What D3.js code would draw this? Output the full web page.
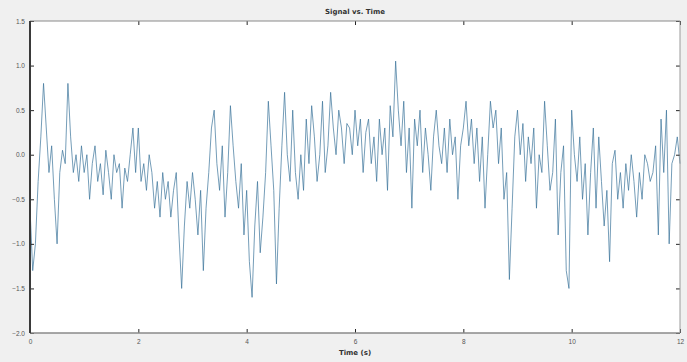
<!DOCTYPE html>
<html><head><meta charset="utf-8">
<script src="https://cdn.jsdelivr.net/npm/d3@7"></script>
<style>html,body{margin:0;padding:0;background:#f0f0f0;}svg{display:block;font-family:"DejaVu Sans",sans-serif;}</style>
</head><body>
<svg id="c" width="687" height="362"></svg>
<script>
const title = "Signal vs. Time";
const xLabel = "Time (s)";
const xTicks = [0, 2, 4, 6, 8, 10, 12];
const yTicks = [-2, -1.5, -1, -0.5, 0, 0.5, 1, 1.5];
const timeStep = 0.05;
const signal = [
  -0.6, -1.3, -1.0, -0.3, 0.2, 0.8, 0.3, -0.2, 0.1, -0.5,
  -1.0, -0.2, 0.05, -0.1, 0.8, 0.2, -0.2, 0.0, -0.3, 0.1,
  -0.2, 0.0, -0.5, -0.1, 0.1, -0.3, -0.1, -0.45, 0.05, -0.2,
  -0.5, 0.0, -0.2, -0.1, -0.6, -0.15, -0.3, 0.0, 0.3, -0.2,
  0.3, -0.3, -0.1, -0.4, 0.0, -0.2, -0.6, -0.3, -0.7, -0.2,
  -0.5, -0.3, -0.7, -0.4, -0.2, -0.9, -1.5, -0.8, -0.3, -0.6,
  -0.2, -0.5, -0.9, -0.4, -1.3, -0.6, -0.2, 0.3, 0.5, -0.1,
  -0.4, 0.1, -0.7, -0.2, 0.55, 0.1, -0.3, -0.6, -0.1, -0.9,
  -0.4, -1.2, -1.6, -0.8, -0.3, -1.1, -0.7, -0.2, 0.6, 0.1,
  -0.4, -1.45, -0.6, 0.1, 0.7, 0.0, -0.3, 0.5, -0.2, -0.5,
  0.0, -0.4, 0.4, -0.1, 0.55, 0.2, -0.3, 0.0, 0.6, -0.2,
  0.1, 0.7, 0.3, 0.0, 0.5, 0.3, -0.1, 0.35, 0.3, 0.0,
  0.5, 0.1, 0.4, -0.2, 0.25, 0.4, -0.1, 0.2, -0.3, 0.4,
  0.0, 0.3, -0.4, 0.55, 0.2, 1.05, 0.5, 0.1, 0.6, -0.2,
  0.3, -0.6, 0.4, 0.1, 0.5, -0.2, 0.3, 0.0, -0.4, 0.2,
  0.5, 0.1, -0.1, 0.3, -0.2, 0.4, 0.0, 0.2, -0.5, 0.1,
  0.3, 0.6, 0.1, 0.4, -0.1, 0.3, -0.3, 0.2, -0.6, 0.0,
  0.6, 0.3, 0.5, -0.1, 0.3, -0.5, -0.2, -1.4, -0.6, 0.2,
  0.5, 0.0, 0.35, -0.3, 0.2, -0.1, 0.3, -0.6, 0.0, -0.2,
  0.6, 0.1, -0.4, -0.2, 0.4, -0.9, -0.2, 0.1, -1.3, -1.5,
  0.5, 0.0, -0.3, 0.2, -0.5, -0.1, -0.9, -0.2, 0.3, -0.6,
  0.2, -0.3, -0.8, -0.4, -1.2, -0.1, 0.05, -0.5, -0.2, -0.6,
  -0.1, -0.4, 0.0, -0.3, -0.7, -0.2, -0.5, 0.0, -0.1, -0.3,
  -0.2, 0.1, -0.9, 0.4, -0.2, 0.5, -1.0, -0.1, 0.0, 0.2,
  -0.1
];

const svg = d3.select("#c");
const m = {l: 30, r: 7, t: 21, b: 29};
const W = 687, H = 362;
const x = d3.scaleLinear().domain([0, 12]).range([m.l, W - m.r]);
const y = d3.scaleLinear().domain([-2, 1.5]).range([H - m.b, m.t]);

svg.append("rect").attr("x", m.l).attr("y", m.t)
  .attr("width", W - m.r - m.l).attr("height", H - m.b - m.t).attr("fill", "#fff");

const data = signal.map((v, i) => ({t: i * timeStep, v}));
svg.append("path").datum(data)
  .attr("fill", "none").attr("stroke", "#3a7399").attr("stroke-width", 0.7)
  .attr("d", d3.line().x(d => x(d.t)).y(d => y(d.v)));

const axisStyle = g => {
  g.select(".domain").remove();
  g.selectAll("line").attr("stroke", "#262626");
  g.selectAll("text").attr("fill", "#555").attr("font-size", 6.5);
};
svg.append("g").attr("transform", `translate(0,${H - m.b})`)
  .call(d3.axisBottom(x).tickValues(xTicks).tickSize(-4).tickPadding(6)).call(axisStyle);
svg.append("g").attr("transform", `translate(0,${m.t})`)
  .call(d3.axisTop(x).tickValues(xTicks).tickSize(-4).tickFormat("")).call(axisStyle);
svg.append("g").attr("transform", `translate(${m.l},0)`)
  .call(d3.axisLeft(y).tickValues(yTicks).tickSize(-4).tickPadding(5)).call(axisStyle);
svg.append("g").attr("transform", `translate(${W - m.r},0)`)
  .call(d3.axisRight(y).tickValues(yTicks).tickSize(-4).tickFormat("")).call(axisStyle);

svg.append("line").attr("x1", m.l).attr("x2", W - m.r).attr("y1", m.t).attr("y2", m.t).attr("stroke", "#8a8a8a");
svg.append("line").attr("x1", m.l).attr("x2", W - m.r).attr("y1", H - m.b).attr("y2", H - m.b).attr("stroke", "#8a8a8a").attr("stroke-width", 1.5);
svg.append("line").attr("x1", W - m.r).attr("x2", W - m.r).attr("y1", m.t).attr("y2", H - m.b).attr("stroke", "#9a9a9a");
svg.append("line").attr("x1", m.l).attr("x2", m.l).attr("y1", m.t).attr("y2", H - m.b).attr("stroke", "#3a3a3a").attr("stroke-width", 2);

svg.append("text").attr("x", (m.l + W - m.r) / 2).attr("y", 14).attr("text-anchor", "middle")
  .attr("font-size", 7).attr("font-weight", "bold").attr("fill", "#333").text(title);
svg.append("text").attr("x", (m.l + W - m.r) / 2).attr("y", 355).attr("text-anchor", "middle")
  .attr("font-size", 7).attr("font-weight", "bold").attr("fill", "#333").text(xLabel);
</script>
</body></html>
